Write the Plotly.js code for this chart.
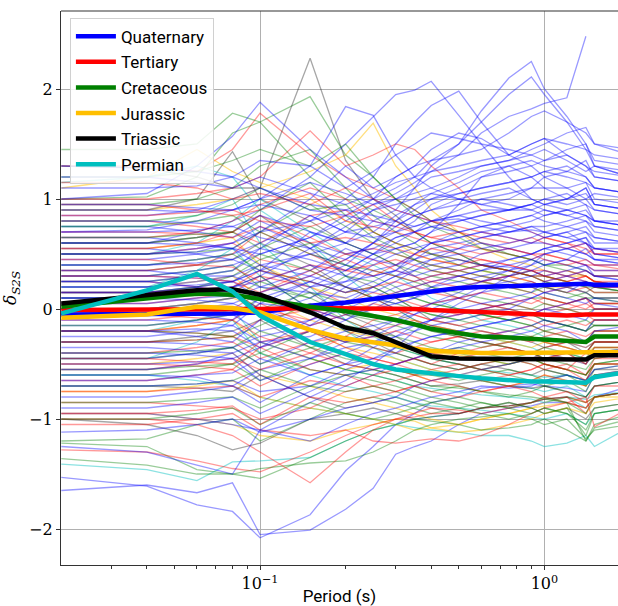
<!DOCTYPE html>
<html>
<head>
<meta charset="utf-8">
<script src="https://cdn.plot.ly/plotly-3.0.1.min.js"></script>
<style>html,body{margin:0;padding:0;overflow:hidden;background:#fff}</style>
</head>
<body>
<div id="chart" style="width:618px;height:606px"></div>
<script>
// Periods (s)
const periods = [0.02,0.04,0.06,0.08,0.1,0.15,0.2,0.25,0.3,0.35,0.4,0.5,0.6,0.75,0.9,1.0,1.2,1.4,1.5,2.0];

// Group means (thick lines)
const quaternaryMean = [-0.05,-0.05,-0.05,-0.04,-0.03,0.03,0.06,0.09,0.12,0.14,0.16,0.19,0.2,0.21,0.22,0.22,0.23,0.23,0.22,0.22];
const tertiaryMean   = [-0.01,-0.01,-0.01,0.0,0.0,0.01,0.01,0.01,0.0,0.0,-0.01,-0.02,-0.03,-0.04,-0.05,-0.06,-0.06,-0.05,-0.05,-0.05];
const cretaceousMean = [0.02,0.09,0.14,0.13,0.09,0.02,-0.02,-0.06,-0.1,-0.14,-0.18,-0.22,-0.25,-0.26,-0.27,-0.28,-0.29,-0.3,-0.25,-0.25];
const jurassicMean   = [-0.08,-0.05,0.02,0.01,-0.03,-0.19,-0.27,-0.3,-0.33,-0.36,-0.38,-0.39,-0.4,-0.4,-0.4,-0.4,-0.4,-0.4,-0.39,-0.39];
const triassicMean   = [0.05,0.12,0.17,0.18,0.13,-0.03,-0.17,-0.22,-0.3,-0.37,-0.43,-0.45,-0.45,-0.45,-0.45,-0.45,-0.46,-0.46,-0.42,-0.42];
const permianMean    = [-0.04,0.17,0.32,0.16,-0.06,-0.3,-0.41,-0.5,-0.55,-0.57,-0.59,-0.61,-0.63,-0.65,-0.66,-0.66,-0.66,-0.67,-0.62,-0.57];

// Individual station terms (thin lines), estimated
const quaternaryStations = [
[-1.53,-1.61,-1.78,-1.84,-2.08,-1.87,-1.47,-1.25,-1.05,-0.95,-0.85,-0.8,-0.72,-0.7,-0.68,-0.7,-0.72,-0.75,-0.6,-0.55],
[-1.65,-1.6,-1.67,-1.58,-2.05,-2.01,-1.82,-1.63,-1.32,-1.25,-1.2,-1.05,-0.95,-0.9,-0.88,-0.85,-0.85,-0.9,-0.8,-0.7],
[1.0,1.05,1.3,1.57,1.88,1.45,1.2,1.0,0.9,0.85,0.8,0.82,0.75,0.7,0.72,0.7,0.65,0.7,0.6,0.6],
[0.6,0.6,0.7,0.8,0.9,1.2,1.5,1.75,1.95,1.99,2.07,1.76,1.5,1.2,1.0,0.95,0.9,0.85,0.8,0.75],
[0.5,0.5,0.55,0.6,0.7,0.8,0.9,1.0,1.1,1.2,1.35,1.5,1.8,2.1,2.25,2.0,1.75,1.5,1.3,1.2],
[0.3,0.3,0.35,0.4,0.5,0.65,0.8,0.95,1.05,1.15,1.25,1.4,1.6,1.75,1.82,1.87,1.92,2.48,null,null],
[0.7,0.72,0.8,0.9,1.0,1.3,1.84,1.76,1.4,1.2,1.1,1.0,0.95,0.9,0.9,0.85,0.9,0.85,0.8,0.8],
[0.4,0.4,0.45,0.5,0.6,0.8,1.0,1.2,1.5,1.7,1.85,1.98,1.7,1.4,1.3,1.2,1.1,1.15,1.0,0.95],
[0.2,0.2,0.25,0.3,0.4,0.5,0.6,0.8,0.9,1.1,1.3,1.5,1.7,1.95,2.11,1.95,1.7,1.45,1.3,1.2],
[1.3,1.28,1.25,1.2,1.1,0.95,0.9,0.85,0.8,0.75,0.8,0.85,0.9,0.9,0.95,1.0,1.05,0.95,0.9,0.85],
[0.9,0.9,0.88,0.9,0.95,0.85,0.7,0.75,0.8,0.9,1.0,1.1,1.2,1.25,1.3,1.35,1.4,1.3,1.2,1.15],
[0.75,0.75,0.7,0.65,0.8,0.6,0.5,0.55,0.65,0.7,0.8,0.9,1.0,1.05,1.1,1.1,1.1,1.0,1.05,1.0],
[0.45,0.45,0.5,0.55,0.4,0.3,0.45,0.6,0.7,0.75,0.8,0.85,0.8,0.75,0.8,0.85,0.9,0.95,0.8,0.75],
[0.3,0.3,0.28,0.25,0.35,0.5,0.4,0.3,0.35,0.45,0.55,0.6,0.65,0.7,0.75,0.7,0.65,0.6,0.55,0.5],
[0.15,0.15,0.2,0.25,0.1,0.0,0.2,0.35,0.4,0.45,0.5,0.55,0.6,0.55,0.5,0.55,0.6,0.65,0.5,0.45],
[0.0,0.0,0.05,0.1,0.2,0.15,0.1,0.2,0.3,0.35,0.4,0.45,0.4,0.45,0.5,0.55,0.5,0.45,0.4,0.4],
[-0.15,-0.15,-0.1,-0.05,-0.2,-0.1,0.0,0.1,0.2,0.25,0.3,0.35,0.4,0.38,0.35,0.3,0.35,0.4,0.3,0.3],
[-0.3,-0.3,-0.32,-0.35,-0.25,-0.15,-0.05,0.0,0.1,0.15,0.2,0.25,0.3,0.35,0.4,0.45,0.4,0.35,0.3,0.25],
[-0.45,-0.45,-0.4,-0.35,-0.5,-0.3,-0.2,-0.15,-0.1,0.0,0.05,0.1,0.15,0.2,0.25,0.2,0.15,0.25,0.2,0.2],
[-0.6,-0.6,-0.62,-0.7,-0.55,-0.45,-0.35,-0.3,-0.2,-0.15,-0.1,-0.05,0.0,0.05,0.1,0.15,0.1,0.05,0.1,0.05],
[-0.8,-0.8,-0.75,-0.7,-0.85,-0.6,-0.5,-0.45,-0.4,-0.3,-0.25,-0.2,-0.15,-0.1,-0.05,0.0,-0.05,-0.1,0.0,0.0],
[-0.95,-0.95,-1.0,-1.05,-1.1,-0.85,-0.7,-0.6,-0.5,-0.45,-0.4,-0.3,-0.25,-0.2,-0.15,-0.1,-0.15,-0.2,-0.1,-0.1],
[-1.12,-1.1,-1.05,-1.0,-1.12,-1.0,-0.9,-0.85,-0.8,-0.7,-0.65,-0.6,-0.55,-0.5,-0.45,-0.4,-0.45,-0.5,-0.4,-0.35],
[-1.25,-1.3,-1.42,-1.5,-1.1,-1.2,-1.05,-0.95,-0.9,-0.85,-0.8,-0.75,-0.7,-0.72,-0.7,-0.65,-0.6,-0.65,-0.55,-0.5],
[1.1,1.1,1.12,1.2,1.35,1.3,1.1,1.25,1.4,1.5,1.6,1.55,1.5,1.45,1.4,1.35,1.45,1.5,1.35,1.3],
[0.65,0.65,0.6,0.55,0.7,1.0,1.3,1.1,1.2,1.3,1.45,1.6,1.55,1.4,1.5,1.55,1.4,1.3,1.25,1.2],
[0.1,0.1,0.15,0.2,0.3,0.55,0.7,0.9,1.0,1.1,1.2,1.25,1.3,1.35,1.45,1.5,1.6,1.65,1.5,1.4],
[0.55,0.55,0.5,0.45,0.35,0.7,0.6,0.5,0.55,0.6,0.7,0.95,1.2,1.3,1.2,1.1,1.0,1.1,0.95,0.9],
[-0.2,-0.2,-0.25,-0.3,-0.1,0.2,0.35,0.5,0.6,0.7,0.75,0.8,0.85,0.9,0.95,0.9,0.85,0.9,0.8,0.75],
[0.25,0.25,0.3,0.35,0.55,0.85,0.7,0.65,0.7,0.8,0.95,1.05,1.1,1.15,1.2,1.25,1.3,1.2,1.1,1.05],
[-0.55,-0.55,-0.5,-0.4,-0.6,-0.8,-0.65,-0.5,-0.35,-0.2,-0.1,0.05,0.15,0.3,0.4,0.5,0.55,0.5,0.45,0.4],
[0.85,0.85,0.9,1.0,1.1,0.9,0.85,1.0,1.2,1.3,1.35,1.4,1.45,1.6,1.75,1.8,1.7,1.6,1.5,1.45],
[0.95,0.95,0.92,0.9,1.0,1.15,1.05,0.95,1.0,1.05,1.1,1.2,1.3,1.35,1.4,1.45,1.35,1.25,1.3,1.25],
[0.7,0.7,0.72,0.75,0.65,0.55,0.75,0.9,0.95,1.0,1.05,1.0,0.95,1.0,1.1,1.2,1.25,1.2,1.1,1.05],
[0.6,0.6,0.58,0.55,0.5,0.65,0.85,0.8,0.75,0.85,0.9,0.95,1.0,0.95,0.9,0.95,1.0,1.05,0.95,0.9],
[0.4,0.4,0.42,0.45,0.55,0.45,0.35,0.5,0.65,0.7,0.75,0.7,0.75,0.8,0.85,0.9,0.85,0.8,0.75,0.7],
[0.35,0.35,0.3,0.3,0.2,0.35,0.55,0.45,0.4,0.5,0.6,0.65,0.7,0.75,0.7,0.65,0.7,0.75,0.65,0.6],
[0.2,0.2,0.22,0.25,0.35,0.2,0.25,0.4,0.5,0.55,0.6,0.7,0.75,0.8,0.85,0.8,0.75,0.7,0.65,0.6],
[0.1,0.1,0.08,0.05,0.15,0.3,0.2,0.15,0.25,0.35,0.45,0.5,0.55,0.6,0.65,0.7,0.75,0.8,0.7,0.65],
[-0.05,-0.05,0.0,0.05,-0.05,0.1,0.25,0.3,0.35,0.3,0.35,0.4,0.5,0.55,0.6,0.6,0.55,0.5,0.45,0.45],
[-0.1,-0.1,-0.12,-0.15,0.05,0.0,-0.1,0.05,0.15,0.2,0.25,0.3,0.35,0.4,0.45,0.4,0.45,0.55,0.45,0.4],
[-0.25,-0.25,-0.2,-0.15,-0.3,-0.25,-0.1,0.0,0.05,0.1,0.15,0.2,0.25,0.3,0.35,0.4,0.45,0.4,0.35,0.35],
[-0.35,-0.35,-0.38,-0.4,-0.3,-0.45,-0.3,-0.2,-0.1,-0.05,0.0,0.1,0.2,0.25,0.3,0.35,0.3,0.25,0.2,0.2],
[-0.5,-0.5,-0.48,-0.45,-0.65,-0.5,-0.4,-0.3,-0.25,-0.2,-0.15,-0.1,-0.05,0.0,0.1,0.15,0.2,0.15,0.1,0.1],
[-0.7,-0.7,-0.68,-0.65,-0.75,-0.7,-0.55,-0.45,-0.35,-0.3,-0.25,-0.2,-0.15,-0.1,-0.05,0.0,0.05,0.1,0.05,0.0],
[-0.9,-0.9,-0.85,-0.8,-0.95,-0.75,-0.6,-0.55,-0.5,-0.45,-0.4,-0.35,-0.3,-0.25,-0.2,-0.15,-0.2,-0.3,-0.2,-0.15],
[0.05,0.05,0.1,0.12,0.0,-0.15,0.05,0.2,0.3,0.4,0.45,0.55,0.65,0.7,0.75,0.75,0.8,0.85,0.75,0.7],
[0.5,0.5,0.52,0.6,0.75,0.55,0.45,0.6,0.8,0.95,1.05,1.15,1.25,1.3,1.35,1.3,1.25,1.35,1.2,1.15],
[0.25,0.25,0.2,0.15,0.05,0.25,0.4,0.6,0.75,0.85,0.9,1.0,1.05,1.1,1.0,0.95,1.0,1.1,0.95,0.9],
[-0.4,-0.4,-0.42,-0.45,-0.35,-0.2,-0.3,-0.25,-0.15,-0.05,0.05,0.15,0.25,0.35,0.45,0.5,0.55,0.6,0.5,0.45],
[0.8,0.8,0.78,0.75,0.85,0.7,0.6,0.7,0.85,0.95,1.0,1.05,1.1,1.15,1.2,1.25,1.2,1.15,1.1,1.05],
[-0.65,-0.65,-0.6,-0.58,-0.45,-0.6,-0.5,-0.35,-0.25,-0.15,-0.1,0.0,0.05,0.1,0.15,0.25,0.3,0.35,0.3,0.25],
[1.2,1.2,1.15,1.1,1.2,1.05,0.95,1.05,1.15,1.2,1.25,1.3,1.35,1.4,1.5,1.55,1.5,1.45,1.4,1.35],
[0.0,0.0,-0.05,-0.1,0.1,0.25,0.15,0.25,0.35,0.5,0.6,0.65,0.7,0.65,0.6,0.65,0.7,0.6,0.55,0.55],
[-0.2,-0.2,-0.18,-0.2,-0.35,-0.1,0.05,0.1,0.05,0.1,0.2,0.3,0.35,0.45,0.5,0.55,0.6,0.65,0.55,0.5],
[0.15,0.15,0.18,0.2,0.25,0.4,0.3,0.45,0.55,0.6,0.7,0.8,0.85,0.9,0.95,1.0,0.95,1.0,0.9,0.85]
];
const tertiaryStations = [
[1.3,1.3,1.25,1.45,1.78,1.4,1.2,1.1,1.0,0.9,0.8,0.7,0.6,0.55,0.5,0.5,0.45,0.4,0.35,0.35],
[1.0,1.0,1.05,1.1,1.2,1.62,1.3,1.4,1.5,1.45,1.3,1.1,0.9,0.8,0.7,0.65,0.6,0.55,0.5,0.5],
[0.8,0.8,0.75,0.7,0.6,0.85,0.9,0.7,0.6,0.55,0.5,0.45,0.4,0.35,0.3,0.3,0.25,0.3,0.25,0.2],
[0.5,0.5,0.55,0.6,0.45,0.35,0.5,0.55,0.5,0.45,0.4,0.35,0.3,0.25,0.2,0.15,0.2,0.25,0.2,0.2],
[0.25,0.25,0.2,0.15,0.3,0.2,0.05,0.1,0.15,0.2,0.25,0.3,0.25,0.2,0.15,0.1,0.05,0.1,0.05,0.05],
[0.05,0.05,0.1,0.15,0.0,-0.1,0.05,0.15,0.1,0.05,0.0,-0.05,0.0,0.05,0.0,-0.05,0.0,-0.05,-0.1,-0.1],
[-0.2,-0.2,-0.22,-0.25,-0.1,0.0,-0.1,-0.2,-0.15,-0.1,-0.15,-0.2,-0.25,-0.2,-0.15,-0.2,-0.25,-0.3,-0.2,-0.2],
[-0.4,-0.4,-0.35,-0.3,-0.45,-0.3,-0.25,-0.35,-0.4,-0.35,-0.3,-0.25,-0.3,-0.35,-0.4,-0.35,-0.3,-0.35,-0.3,-0.3],
[-0.65,-0.65,-0.6,-0.55,-0.7,-0.5,-0.4,-0.45,-0.5,-0.55,-0.6,-0.55,-0.5,-0.45,-0.5,-0.55,-0.5,-0.6,-0.45,-0.4],
[-0.85,-0.85,-0.88,-0.9,-1.0,-0.9,-0.75,-0.7,-0.65,-0.6,-0.65,-0.7,-0.75,-0.7,-0.65,-0.6,-0.65,-0.7,-0.6,-0.55],
[-1.28,-1.3,-1.38,-1.45,-1.48,-1.3,-1.15,-1.05,-1.0,-0.98,-0.95,-0.95,-0.9,-0.88,-0.85,-0.82,-0.8,-0.95,-0.8,-0.75],
[-1.0,-1.0,-1.05,-1.15,-1.3,-1.58,-1.3,-1.1,-1.0,-0.95,-0.9,-0.92,-0.95,-0.9,-0.85,-0.8,-0.85,-0.9,-0.8,-0.75],
[1.15,1.15,1.1,1.0,1.05,0.95,1.1,1.0,0.9,0.85,0.8,0.75,0.7,0.65,0.6,0.65,0.6,0.5,0.55,0.5],
[0.65,0.65,0.7,0.8,0.95,1.1,1.0,0.8,0.75,0.7,0.65,0.6,0.55,0.5,0.45,0.5,0.45,0.4,0.4,0.35],
[0.35,0.35,0.4,0.5,0.7,0.5,0.35,0.3,0.4,0.5,0.55,0.5,0.45,0.4,0.35,0.3,0.35,0.3,0.25,0.25],
[-0.1,-0.1,-0.05,0.0,0.15,0.35,0.2,0.1,0.0,-0.05,-0.1,-0.05,0.0,0.05,0.1,0.05,0.0,0.05,0.0,0.0],
[-0.5,-0.5,-0.52,-0.55,-0.35,-0.55,-0.6,-0.7,-0.75,-0.7,-0.65,-0.6,-0.65,-0.6,-0.55,-0.5,-0.55,-0.4,-0.45,-0.45],
[-1.05,-1.05,-1.0,-0.95,-1.1,-1.15,-1.1,-1.2,-1.22,-1.2,-1.18,-1.2,-1.15,-1.05,-0.95,-0.9,-0.85,-0.8,-1.07,-0.9],
[0.95,0.95,0.9,0.85,0.9,1.05,0.8,0.75,0.7,0.65,0.6,0.55,0.5,0.55,0.5,0.45,0.4,0.45,0.4,0.4],
[0.7,0.7,0.68,0.65,0.75,0.6,0.65,0.6,0.55,0.5,0.45,0.4,0.45,0.4,0.35,0.35,0.3,0.35,0.3,0.3],
[0.45,0.45,0.4,0.38,0.25,0.4,0.35,0.4,0.45,0.4,0.35,0.3,0.25,0.3,0.25,0.2,0.15,0.2,0.15,0.15],
[0.15,0.15,0.18,0.2,0.35,0.25,0.15,0.2,0.25,0.2,0.15,0.1,0.15,0.1,0.05,0.1,0.05,0.0,0.05,0.05],
[-0.05,-0.05,-0.08,-0.1,0.05,-0.15,-0.05,0.05,0.0,-0.05,-0.1,-0.15,-0.1,-0.05,-0.1,-0.15,-0.1,-0.15,-0.1,-0.1],
[-0.3,-0.3,-0.28,-0.25,-0.35,-0.2,-0.3,-0.25,-0.2,-0.25,-0.3,-0.25,-0.2,-0.25,-0.3,-0.25,-0.2,-0.25,-0.2,-0.2],
[-0.55,-0.55,-0.5,-0.45,-0.55,-0.4,-0.5,-0.55,-0.5,-0.45,-0.4,-0.45,-0.4,-0.35,-0.4,-0.45,-0.4,-0.5,-0.35,-0.35],
[-0.75,-0.75,-0.72,-0.7,-0.8,-0.65,-0.7,-0.6,-0.55,-0.6,-0.55,-0.5,-0.55,-0.6,-0.55,-0.5,-0.55,-0.65,-0.5,-0.5],
[-0.95,-0.95,-0.92,-0.88,-1.05,-0.8,-0.85,-0.8,-0.75,-0.7,-0.75,-0.8,-0.75,-0.7,-0.75,-0.8,-0.75,-0.85,-0.7,-0.7],
[0.55,0.55,0.6,0.7,0.85,0.65,0.5,0.45,0.35,0.3,0.25,0.2,0.25,0.3,0.35,0.3,0.25,0.3,0.25,0.2],
[0.3,0.3,0.28,0.25,0.15,0.3,0.45,0.35,0.3,0.25,0.3,0.35,0.4,0.35,0.3,0.25,0.3,0.25,0.2,0.2],
[-0.2,-0.2,-0.15,-0.1,-0.25,-0.4,-0.25,-0.1,-0.05,0.0,0.05,0.1,0.05,0.0,-0.05,0.0,0.05,0.1,0.0,0.0],
[-0.45,-0.45,-0.48,-0.5,-0.3,-0.2,-0.35,-0.45,-0.5,-0.45,-0.5,-0.4,-0.35,-0.3,-0.25,-0.3,-0.35,-0.4,-0.3,-0.3],
[0.85,0.85,0.88,0.9,0.8,0.75,0.85,0.95,0.8,0.7,0.65,0.7,0.65,0.6,0.65,0.6,0.55,0.6,0.5,0.5]
];
const cretaceousStations = [
[1.0,1.02,1.2,1.6,1.7,1.93,1.4,1.2,1.0,0.9,0.8,0.7,0.6,0.5,0.45,0.4,0.35,0.3,0.25,0.2],
[1.45,1.45,1.5,1.78,1.7,1.2,1.0,0.9,0.8,0.7,0.6,0.5,0.4,0.35,0.3,0.3,0.25,0.2,0.15,0.15],
[0.95,0.95,1.0,1.1,1.3,1.45,1.1,0.85,0.7,0.6,0.5,0.45,0.4,0.35,0.3,0.25,0.2,0.25,0.2,0.15],
[0.6,0.6,0.65,0.7,0.55,0.75,0.6,0.5,0.4,0.35,0.3,0.25,0.2,0.15,0.1,0.1,0.05,0.1,0.05,0.05],
[0.3,0.3,0.35,0.4,0.2,0.1,0.3,0.25,0.15,0.1,0.05,0.0,-0.05,-0.1,-0.15,-0.1,-0.15,-0.2,-0.1,-0.1],
[0.0,0.0,0.05,0.1,0.25,0.1,-0.05,-0.1,-0.15,-0.2,-0.25,-0.3,-0.35,-0.3,-0.25,-0.3,-0.35,-0.4,-0.3,-0.3],
[-0.3,-0.3,-0.28,-0.25,-0.4,-0.2,-0.3,-0.35,-0.4,-0.45,-0.5,-0.55,-0.5,-0.45,-0.5,-0.55,-0.6,-0.65,-0.5,-0.45],
[-0.6,-0.6,-0.55,-0.5,-0.65,-0.45,-0.55,-0.6,-0.65,-0.7,-0.75,-0.7,-0.75,-0.8,-0.75,-0.7,-0.75,-0.8,-0.7,-0.65],
[-1.2,-1.18,-1.05,-1.0,-1.2,-1.0,-0.85,-0.8,-0.85,-0.9,-0.95,-0.9,-0.85,-0.9,-0.95,-0.9,-0.95,-1.05,-0.9,-0.85],
[-1.22,-1.25,-1.46,-1.5,-1.54,-1.35,-1.2,-1.1,-1.05,-1.0,-1.02,-1.05,-1.1,-1.08,-1.05,-1.0,-1.1,-1.2,-1.08,-1.0],
[-1.36,-1.42,-1.5,-1.5,-1.45,-1.4,-1.38,-1.3,-1.2,-1.1,-1.05,-1.0,-0.98,-0.95,-1.0,-1.05,-1.0,-1.18,-1.1,-1.05],
[0.8,0.8,0.85,0.95,1.1,0.9,0.95,0.7,0.6,0.55,0.5,0.4,0.35,0.3,0.35,0.3,0.25,0.2,0.2,0.15],
[0.15,0.15,0.2,0.3,0.45,0.6,0.4,0.3,0.2,0.1,0.05,0.0,-0.05,-0.1,-0.05,-0.1,-0.15,-0.1,-0.15,-0.15],
[-0.45,-0.45,-0.4,-0.35,-0.2,-0.35,-0.45,-0.5,-0.55,-0.6,-0.6,-0.65,-0.6,-0.55,-0.6,-0.65,-0.6,-0.7,-0.55,-0.5],
[-0.85,-0.85,-0.82,-0.8,-0.9,-0.7,-0.6,-0.55,-0.6,-0.65,-0.7,-0.72,-0.75,-0.78,-0.8,-0.82,-0.85,-1.2,-1.05,-0.95],
[1.2,1.2,1.25,1.35,1.45,1.3,1.5,1.2,1.0,0.85,0.75,0.65,0.55,0.5,0.45,0.4,0.4,0.35,0.3,0.3],
[0.75,0.75,0.8,0.85,0.7,0.95,0.75,0.6,0.5,0.45,0.4,0.35,0.3,0.25,0.2,0.15,0.1,0.15,0.1,0.1],
[0.5,0.5,0.52,0.55,0.7,0.5,0.4,0.35,0.3,0.25,0.2,0.15,0.1,0.05,0.0,0.05,0.0,-0.05,0.0,0.0],
[0.4,0.4,0.45,0.5,0.35,0.25,0.15,0.2,0.1,0.0,-0.05,-0.1,-0.15,-0.2,-0.25,-0.2,-0.25,-0.3,-0.2,-0.2],
[0.1,0.1,0.12,0.15,0.0,0.15,0.05,-0.05,-0.1,-0.15,-0.2,-0.25,-0.3,-0.35,-0.4,-0.35,-0.4,-0.45,-0.35,-0.35],
[-0.15,-0.15,-0.1,-0.05,0.1,-0.05,-0.15,-0.2,-0.25,-0.3,-0.35,-0.4,-0.45,-0.5,-0.45,-0.5,-0.55,-0.6,-0.5,-0.45],
[-0.4,-0.4,-0.38,-0.35,-0.5,-0.35,-0.25,-0.3,-0.35,-0.4,-0.45,-0.5,-0.55,-0.6,-0.65,-0.7,-0.65,-0.75,-0.6,-0.6],
[-0.7,-0.7,-0.68,-0.65,-0.55,-0.7,-0.75,-0.7,-0.75,-0.8,-0.85,-0.8,-0.85,-0.9,-0.85,-0.8,-0.85,-0.95,-0.8,-0.75],
[-1.0,-1.0,-0.95,-0.9,-1.05,-0.85,-0.95,-1.0,-0.95,-0.9,-0.85,-0.9,-0.95,-1.0,-0.95,-0.9,-0.95,-1.1,-0.95,-0.9],
[0.25,0.25,0.3,0.35,0.5,0.35,0.2,0.1,0.05,0.0,-0.05,-0.1,-0.05,-0.1,-0.15,-0.2,-0.15,-0.2,-0.15,-0.15],
[-0.2,-0.2,-0.22,-0.25,-0.15,0.05,-0.1,-0.2,-0.3,-0.35,-0.4,-0.35,-0.4,-0.45,-0.4,-0.45,-0.5,-0.55,-0.45,-0.4],
[0.65,0.65,0.68,0.7,0.9,1.15,0.85,0.65,0.55,0.45,0.35,0.3,0.25,0.2,0.15,0.2,0.15,0.1,0.1,0.05],
[-0.55,-0.55,-0.52,-0.5,-0.4,-0.55,-0.6,-0.65,-0.7,-0.75,-0.8,-0.85,-0.9,-0.85,-0.9,-0.95,-0.9,-1.15,-0.95,-0.9]
];
const jurassicStations = [
[0.9,0.9,0.95,1.0,1.1,1.25,1.4,1.69,1.3,1.1,0.9,0.7,0.55,0.45,0.4,0.35,0.3,0.3,0.25,0.2],
[1.1,1.2,1.45,1.25,1.15,1.0,0.8,0.7,0.6,0.5,0.45,0.4,0.35,0.3,0.25,0.2,0.2,0.15,0.1,0.1],
[0.2,0.2,0.25,0.3,0.1,-0.1,-0.2,-0.25,-0.3,-0.35,-0.4,-0.42,-0.45,-0.5,-0.45,-0.4,-0.45,-0.5,-0.4,-0.4],
[-0.5,-0.5,-0.45,-0.4,-0.6,-0.7,-0.8,-0.85,-0.9,-0.95,-1.0,-1.05,-1.0,-0.95,-0.9,-0.85,-0.8,-0.85,-0.8,-0.75],
[-0.95,-0.95,-1.0,-1.05,-1.15,-1.2,-1.1,-1.05,-1.0,-1.02,-1.08,-1.12,-1.1,-1.05,-1.0,-0.95,-0.9,-0.95,-0.85,-0.8],
[0.55,0.55,0.6,0.65,0.4,0.2,0.1,0.0,-0.05,-0.1,-0.15,-0.2,-0.25,-0.3,-0.35,-0.3,-0.35,-0.4,-0.35,-0.35],
[-0.2,-0.2,-0.15,-0.1,-0.3,-0.45,-0.55,-0.5,-0.55,-0.6,-0.65,-0.6,-0.65,-0.7,-0.65,-0.6,-0.65,-0.7,-0.6,-0.6],
[0.0,0.0,0.05,0.1,0.0,-0.2,-0.35,-0.4,-0.45,-0.5,-0.55,-0.6,-0.55,-0.5,-0.45,-0.5,-0.55,-0.6,-0.5,-0.5],
[-0.75,-0.75,-0.7,-0.65,-0.8,-0.9,-0.95,-1.0,-1.05,-1.1,-1.08,-1.05,-1.0,-0.95,-0.9,-0.88,-0.85,-0.9,-0.8,-0.8]
];
const triassicStations = [
[1.3,1.28,1.2,1.1,1.1,2.28,1.35,1.0,0.85,0.7,0.6,0.5,0.4,0.35,0.3,0.25,0.2,0.15,0.2,0.15],
[0.9,0.9,1.0,1.43,1.0,0.8,0.6,0.5,0.4,0.3,0.2,0.1,0.05,0.0,-0.05,-0.1,-0.15,-0.2,-0.15,-0.15],
[0.35,0.35,0.4,0.45,0.6,0.4,0.2,0.1,0.0,-0.1,-0.2,-0.25,-0.3,-0.35,-0.4,-0.45,-0.4,-0.5,-0.4,-0.4],
[-0.7,-0.7,-0.72,-0.75,-0.6,-0.8,-0.9,-0.85,-0.8,-0.85,-0.9,-0.95,-0.9,-0.85,-0.9,-0.95,-0.9,-1.0,-0.9,-0.85],
[-1.0,-1.05,-1.15,-1.28,-1.22,-1.0,-0.95,-0.9,-0.95,-1.0,-0.98,-0.95,-0.9,-0.88,-0.85,-0.82,-0.8,-0.85,-0.8,-0.75],
[0.6,0.6,0.65,0.7,0.85,0.55,0.3,0.2,0.1,0.0,-0.1,-0.15,-0.2,-0.25,-0.3,-0.35,-0.3,-0.4,-0.3,-0.3],
[0.1,0.1,0.15,0.2,0.3,0.0,-0.2,-0.3,-0.4,-0.45,-0.5,-0.55,-0.5,-0.55,-0.6,-0.55,-0.6,-0.65,-0.55,-0.55],
[-0.3,-0.3,-0.25,-0.2,-0.1,-0.35,-0.5,-0.55,-0.6,-0.65,-0.7,-0.68,-0.65,-0.7,-0.72,-0.7,-0.75,-0.8,-0.7,-0.65],
[0.15,0.15,0.2,0.25,0.4,0.15,-0.05,-0.15,-0.25,-0.35,-0.45,-0.5,-0.55,-0.5,-0.45,-0.5,-0.55,-0.6,-0.5,-0.5]
];
const permianStations = [
[-1.41,-1.46,-1.56,-1.39,-1.38,-1.35,-1.2,-1.1,-1.05,-1.0,-0.98,-0.95,-0.9,-0.88,-0.85,-0.82,-0.8,-0.82,-0.78,-0.75],
[-0.6,-0.6,-0.65,-0.7,-0.8,-0.9,-0.95,-1.0,-1.05,-1.08,-1.1,-1.12,-1.15,-1.15,-1.2,-1.25,-1.22,-1.15,-1.25,-1.07],
[0.5,0.5,0.6,0.8,1.0,0.7,0.5,0.4,0.3,0.2,0.1,0.0,-0.1,-0.15,-0.2,-0.25,-0.3,-0.35,-0.3,-0.3],
[-0.2,-0.2,-0.1,0.0,-0.3,-0.45,-0.55,-0.6,-0.65,-0.7,-0.72,-0.75,-0.78,-0.8,-0.82,-0.85,-0.8,-0.9,-0.8,-0.75],
[1.15,1.2,1.3,1.2,0.9,0.6,0.3,0.1,0.0,-0.1,-0.15,-0.2,-0.25,-0.3,-0.35,-0.4,-0.4,-0.45,-0.4,-0.35],
[0.2,0.2,0.35,0.55,0.3,0.0,-0.2,-0.35,-0.45,-0.5,-0.55,-0.6,-0.65,-0.7,-0.72,-0.75,-0.7,-0.8,-0.7,-0.65],
[-0.45,-0.45,-0.3,-0.1,-0.4,-0.6,-0.7,-0.75,-0.8,-0.85,-0.88,-0.9,-0.92,-0.95,-0.98,-1.0,-0.95,-1.05,-0.95,-0.9],
[0.75,0.75,0.85,1.0,0.6,0.2,-0.1,-0.25,-0.35,-0.4,-0.45,-0.5,-0.55,-0.58,-0.6,-0.62,-0.6,-0.65,-0.6,-0.55]
];

const groupNames = ['Quaternary','Tertiary','Cretaceous','Jurassic','Triassic','Permian'];
const groupColors = ['#0000ff','#ff0000','#008000','#ffbf00','#000000','#00bfbf'];
const thinColors = ['rgba(0,0,255,0.4)','rgba(255,0,0,0.4)','rgba(0,128,0,0.4)','rgba(255,191,0,0.5)','rgba(0,0,0,0.35)','rgba(0,191,191,0.45)'];
const stationSets = [quaternaryStations,tertiaryStations,cretaceousStations,jurassicStations,triassicStations,permianStations];
const means = [quaternaryMean,tertiaryMean,cretaceousMean,jurassicMean,triassicMean,permianMean];

const traces = [];
const maxLen = Math.max(...stationSets.map(s => s.length));
for (let i = 0; i < maxLen; i++) {
  for (let g = 0; g < stationSets.length; g++) {
    const s = stationSets[g][i];
    if (!s) continue;
    traces.push({x: periods, y: s, type: 'scatter', mode: 'lines',
      line: {color: thinColors[g], width: 1.3}, showlegend: false, hoverinfo: 'skip', connectgaps: false});
  }
}
for (let g = 0; g < means.length; g++) {
  traces.push({x: periods, y: means[g], type: 'scatter', mode: 'lines', name: groupNames[g],
    legendgroup: groupNames[g], line: {color: groupColors[g], width: 4.5}});
}

const xMinorTicks = [0.03,0.04,0.05,0.06,0.07,0.08,0.09,0.2,0.3,0.4,0.5,0.6,0.7,0.8,0.9];
const serif = 'DejaVu Serif, serif';
const sans = 'Roboto, sans-serif';

const layout = {
  width: 618, height: 606,
  margin: {l: 61, r: 0, t: 11, b: 41},
  paper_bgcolor: '#fff', plot_bgcolor: '#fff',
  showlegend: true,
  legend: {x: 0.016, y: 0.988, xanchor: 'left', yanchor: 'top',
    bgcolor: 'rgba(255,255,255,0.85)', bordercolor: '#d0d0d0', borderwidth: 1,
    font: {family: sans, size: 17, color: '#000'}, itemwidth: 40, tracegroupgap: 0.5},
  xaxis: {type: 'log', range: [-1.700, 0.259], tickvals: [0.1, 1],
    ticktext: ['10<sup>−1</sup>', '10<sup>0</sup>'],
    ticks: 'outside', ticklen: 4, tickwidth: 1, tickcolor: '#333',
    showline: true, linecolor: '#333', linewidth: 1.2, mirror: false,
    showgrid: true, gridcolor: '#b0b0b0', gridwidth: 1, zeroline: false,
    minor: {tickvals: xMinorTicks, ticks: 'outside', ticklen: 2.5, tickcolor: '#333', showgrid: false},
    tickfont: {family: serif, size: 16, color: '#000'},
    title: {text: 'Period (s)', font: {family: sans, size: 17, color: '#000'}, standoff: 4}},
  yaxis: {range: [-2.327, 2.709], tickvals: [-2, -1, 0, 1, 2], ticktext: ['−2', '−1', '0', '1', '2'],
    ticks: 'outside', ticklen: 4, tickwidth: 1, tickcolor: '#333',
    showline: true, linecolor: '#333', linewidth: 1.2,
    showgrid: true, gridcolor: '#b0b0b0', gridwidth: 1, zeroline: false,
    tickfont: {family: serif, size: 16, color: '#000'},
    title: {text: '<i>δ</i><sub><i>S2S</i></sub>', font: {family: serif, size: 17, color: '#000'}, standoff: 8}},
  shapes: [{type: 'line', xref: 'paper', yref: 'paper', x0: 0, x1: 1, y0: 1, y1: 1,
    line: {color: '#333', width: 1.2}}]
};

Plotly.newPlot('chart', traces, layout, {staticPlot: true, displayModeBar: false});
</script>
</body>
</html>
